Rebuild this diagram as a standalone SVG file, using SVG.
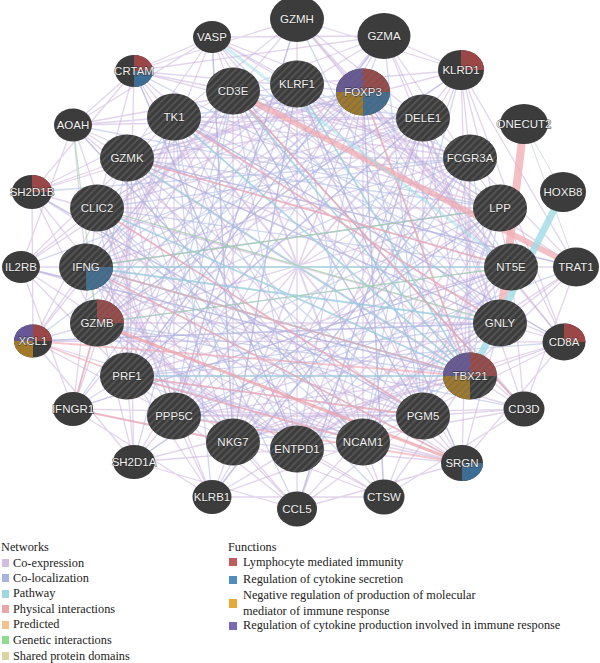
<svg xmlns="http://www.w3.org/2000/svg" width="600" height="663" viewBox="0 0 600 663">
<defs>
<pattern id="hatch" patternUnits="userSpaceOnUse" width="5" height="5" patternTransform="rotate(45)">
<line x1="1" y1="0" x2="1" y2="5" stroke="#6a6a6a" stroke-width="1.4" stroke-opacity="0.7"/>
</pattern>
<style>
.nd{fill:#3c3c3c}
.ht{fill:url(#hatch)}
.lb{font-family:"Liberation Sans",Arial,sans-serif;font-size:11.5px;fill:#f2f2f2;text-anchor:middle;stroke:#2a2a2a;stroke-width:0.8px;paint-order:stroke}
.lg{font-family:"Liberation Serif","Times New Roman",serif;font-size:12.3px;fill:#222}
.ce{fill:none;stroke:#c6a9da;stroke-width:1.3;stroke-opacity:0.5}
.cl{fill:none;stroke:#a3b2e2;stroke-width:1.3;stroke-opacity:0.5}
.pw{fill:none;stroke:#8fd2dd;stroke-width:1.8;stroke-opacity:0.55}
.ph{fill:none;stroke:#eea2aa;stroke-width:1.8;stroke-opacity:0.6}
.gi{fill:none;stroke:#93d993;stroke-width:1.2;stroke-opacity:0.6}
.pr{fill:#9b4747}.bl{fill:#3e6d94}.go{fill:#a27a27}.pu{fill:#675799}
</style>
</defs>
<rect width="600" height="663" fill="#ffffff"/>
<g id="connectors">
<path class="ce" d="M297 84L511 267M363 92L500 323M423 118L470 376M470 158L423 416M500 208L363 442M511 267L297 449M500 323L233 442M470 376L174 416M423 416L127 376M363 442L97 323M297 449L86 267M233 442L97 208M174 416L127 158M127 376L174 117M97 323L233 91M86 267L297 84M97 208L363 92M127 158L423 118M174 117L470 158M233 91L500 208"/>
<path class="ce" d="M297 84L423 416M363 92L363 442M423 118L297 449M470 158L233 442M500 208L174 416M511 267L127 376M500 323L97 323M470 376L86 267M423 416L97 208M363 442L127 158M297 449L174 117M233 442L233 91M174 416L297 84M127 376L363 92M97 323L423 118M86 267L470 158M97 208L500 208M127 158L511 267M174 117L500 323M233 91L470 376"/>
<path class="ce" d="M297 84L500 208M363 92L511 267M423 118L500 323M470 158L470 376M500 208L423 416M511 267L363 442M500 323L297 449M470 376L233 442M423 416L174 416M363 442L127 376M297 449L97 323M233 442L86 267M174 416L97 208M127 376L127 158M97 323L174 117M86 267L233 91M97 208L297 84M127 158L363 92M174 117L423 118M233 91L470 158"/>
<path class="ce" d="M297 84L500 323M363 92L470 376M423 118L423 416M470 158L363 442M500 208L297 449M511 267L233 442M500 323L174 416M470 376L127 376M423 416L97 323M363 442L86 267M297 449L97 208M233 442L127 158M174 416L174 117M127 376L233 91M97 323L297 84M86 267L363 92M97 208L423 118M127 158L470 158M174 117L500 208M233 91L511 267"/>
<path class="ce" d="M297 84L233 442M423 118L127 376M500 208L86 267M500 323L127 158M423 416L233 91"/>
<path class="ce" d="M212 37L297 84M212 37L500 208M212 37L363 442M212 37L97 323M297 19L363 92M297 19L511 267M297 19L297 449M297 19L86 267M384 36L423 118M384 36L500 323M384 36L233 442M384 36L97 208M461 70L470 158M461 70L470 376M461 70L174 416M461 70L127 158M576 267L500 323M576 267L297 449M576 267L86 267M576 267L297 84M564 342L470 376M564 342L233 442M564 342L97 208M564 342L363 92M524 409L423 416M524 409L174 416M524 409L127 158M524 409L423 118M462 463L363 442M462 463L127 376M462 463L174 117M462 463L470 158M384 497L297 449M384 497L97 323M384 497L233 91M384 497L500 208M297 509L233 442M297 509L86 267M297 509L297 84M297 509L511 267M212 497L174 416M212 497L97 208M212 497L363 92M212 497L500 323M134 462L127 376M134 462L127 158M134 462L423 118M134 462L470 376M73 409L97 323M73 409L174 117M73 409L470 158M73 409L423 416M33 341L86 267M33 341L233 91M33 341L500 208M33 341L363 442M21 267L97 208M21 267L297 84M21 267L511 267M21 267L297 449M32 192L127 158M32 192L363 92M32 192L500 323M32 192L233 442M73 125L174 117M73 125L423 118M73 125L470 376M73 125L174 416M134 71L233 91M134 71L470 158M134 71L423 416M134 71L127 376"/>
<path class="ce" d="M212 37L423 118M212 37L233 442M212 37L127 158M297 19L470 158M297 19L174 416M297 19L174 117M384 36L500 208M384 36L127 376M384 36L233 91M461 70L511 267M461 70L97 323M461 70L297 84M576 267L423 416M576 267L127 158M576 267L470 158M564 342L363 442M564 342L174 117M564 342L500 208M524 409L297 449M524 409L233 91M524 409L511 267M462 463L233 442M462 463L297 84M462 463L500 323M384 497L174 416M384 497L363 92M384 497L470 376M297 509L127 376M297 509L423 118M297 509L423 416M212 497L97 323M212 497L470 158M212 497L363 442M134 462L86 267M134 462L500 208M134 462L297 449M73 409L97 208M73 409L511 267M73 409L233 442M33 341L127 158M33 341L500 323M33 341L174 416M21 267L174 117M21 267L470 376M21 267L127 376M32 192L233 91M32 192L423 416M32 192L97 323M73 125L297 84M73 125L363 442M73 125L86 267M134 71L363 92M134 71L297 449M134 71L97 208"/>
<path class="ce" d="M212 37L134 71M212 37L384 36M134 71L297 19M134 71L384 36M73 125L212 37M73 125L134 71M32 192L134 71M21 267L73 125M33 341L32 192M73 409L21 267M134 462L33 341M212 497L73 409M297 509L134 462M384 497L212 497M462 463L297 509M524 409L384 497M564 342L462 463M576 267L524 409M461 70L297 19M384 36L461 70M461 70L576 267M564 342L461 70M564 342L33 341M524 409L21 267M212 37L462 463M384 36L134 462M461 70L212 497M297 19L564 342M134 71L524 409M73 125L564 342M32 192L462 463M73 409L384 36M297 509L461 70M384 497L134 71M462 463L73 125M524 409L212 37"/>
<path class="cl" d="M297 84L470 158M363 92L500 208M423 118L511 267M470 158L500 323M500 208L470 376M511 267L423 416M500 323L363 442M470 376L297 449M423 416L233 442M363 442L174 416M297 449L127 376M233 442L97 323M174 416L86 267M127 376L97 208M97 323L127 158M86 267L174 117M97 208L233 91M127 158L297 84M174 117L363 92M233 91L423 118"/>
<path class="cl" d="M297 84L470 376M363 92L423 416M423 118L363 442M470 158L297 449M500 208L233 442M511 267L174 416M500 323L127 376M470 376L97 323M423 416L86 267M363 442L97 208M297 449L127 158M233 442L174 117M174 416L233 91M127 376L297 84M97 323L363 92M86 267L423 118M97 208L470 158M127 158L500 208M174 117L511 267M233 91L500 323"/>
<path class="cl" d="M297 84L363 442M363 92L297 449M423 118L233 442M470 158L174 416M500 208L127 376M511 267L97 323M500 323L86 267M470 376L97 208M423 416L127 158M363 442L174 117M297 449L233 91M233 442L297 84M174 416L363 92M127 376L423 118M97 323L470 158M86 267L500 208M97 208L511 267M127 158L500 323M174 117L470 376M233 91L423 416"/>
<path class="cl" d="M212 37L500 323M212 37L233 442M297 19L470 376M297 19L174 416M384 36L423 416M384 36L127 376M461 70L363 442M461 70L97 323M576 267L174 416M576 267L127 158M564 342L127 376M564 342L174 117M524 409L97 323M524 409L233 91M462 463L86 267M462 463L297 84M384 497L97 208M384 497L363 92M297 509L127 158M297 509L423 118M212 497L174 117M212 497L470 158M134 462L233 91M134 462L500 208M73 409L297 84M73 409L511 267M33 341L363 92M33 341L500 323M21 267L423 118M21 267L470 376M32 192L470 158M32 192L423 416M73 125L500 208M73 125L363 442M134 71L511 267M134 71L297 449"/>
<path class="pw" d="M470 376L86 267M470 376L233 91M470 376L297 84M470 376L127 158M470 376L97 208M470 376L174 117M500 323L86 267M86 267L511 267M470 376L127 376"/>
<path class="gi" d="M86 267L500 208M97 208L500 323M73 125L97 323M97 323L511 267"/>
<path class="ph" d="M127 376L423 416M97 323L73 409M33 341L127 376M174 117L500 323M86 267L470 376M233 91L524 409M363 92L470 376M127 376L363 442M73 409L233 442M97 208L423 416M127 158L511 267M86 267L462 463M33 341L470 376M174 416L462 463"/>
<path fill="none" stroke="#eea2aa" stroke-opacity="0.75" stroke-width="3" d="M97 323L462 463"/>
<path fill="none" stroke="#d6dede" stroke-width="1" d="M524 124L576 267M524 124L563 192"/>
<path fill="none" stroke="#f0a7ae" stroke-opacity="0.7" stroke-width="6" d="M233 91L576 267"/>
<path fill="none" stroke="#f2b0b5" stroke-opacity="0.8" stroke-width="8" d="M524 124L500 323"/>
<path fill="none" stroke="#9fdbe5" stroke-opacity="0.8" stroke-width="7" d="M563 192L470 376"/>
<path fill="none" stroke="#9fdbe5" stroke-opacity="0.5" stroke-width="3" d="M212 37L511 267"/>
</g>
<g id="nodes">
<g id="n-VASP"><ellipse class="nd" cx="212" cy="37" rx="19" ry="16"/><text class="lb" x="212" y="41">VASP</text></g>
<g id="n-GZMH"><ellipse class="nd" cx="297" cy="19" rx="27" ry="23"/><text class="lb" x="297" y="23">GZMH</text></g>
<g id="n-GZMA"><ellipse class="nd" cx="384" cy="36" rx="26.5" ry="23"/><text class="lb" x="384" y="40">GZMA</text></g>
<g id="n-KLRD1"><ellipse class="nd" cx="461" cy="70" rx="23" ry="20"/><path class="pr" d="M461 70L461 50A23 20 0 0 1 484 70Z"/><text class="lb" x="461" y="74">KLRD1</text></g>
<g id="n-ONECUT2"><ellipse class="nd" cx="524" cy="124" rx="24" ry="20"/><text class="lb" x="524" y="128">ONECUT2</text></g>
<g id="n-HOXB8"><ellipse class="nd" cx="563" cy="192" rx="23" ry="20"/><text class="lb" x="563" y="196">HOXB8</text></g>
<g id="n-TRAT1"><ellipse class="nd" cx="576" cy="267" rx="23" ry="19.5"/><text class="lb" x="576" y="271">TRAT1</text></g>
<g id="n-CD8A"><ellipse class="nd" cx="564" cy="342" rx="21.5" ry="18.5"/><path class="pr" d="M564 342L564 323.5A21.5 18.5 0 0 1 585.5 342Z"/><text class="lb" x="564" y="346">CD8A</text></g>
<g id="n-CD3D"><ellipse class="nd" cx="524" cy="409" rx="20.5" ry="17.5"/><text class="lb" x="524" y="413">CD3D</text></g>
<g id="n-SRGN"><ellipse class="nd" cx="462" cy="463" rx="21" ry="18"/><path class="bl" d="M462 463L483 463A21 18 0 0 1 462 481Z"/><text class="lb" x="462" y="467">SRGN</text></g>
<g id="n-CTSW"><ellipse class="nd" cx="384" cy="497" rx="20.5" ry="17.5"/><text class="lb" x="384" y="501">CTSW</text></g>
<g id="n-CCL5"><ellipse class="nd" cx="297" cy="509" rx="20" ry="17.5"/><text class="lb" x="297" y="513">CCL5</text></g>
<g id="n-KLRB1"><ellipse class="nd" cx="212" cy="497" rx="19.5" ry="17"/><text class="lb" x="212" y="501">KLRB1</text></g>
<g id="n-SH2D1A"><ellipse class="nd" cx="134" cy="462" rx="21" ry="17"/><text class="lb" x="134" y="466">SH2D1A</text></g>
<g id="n-IFNGR1"><ellipse class="nd" cx="73" cy="409" rx="20" ry="17"/><text class="lb" x="73" y="413">IFNGR1</text></g>
<g id="n-XCL1"><ellipse class="nd" cx="33" cy="341" rx="19" ry="16.5"/><path class="pu" d="M33 341L14 341A19 16.5 0 0 1 33 324.5Z"/><path class="pr" d="M33 341L33 324.5A19 16.5 0 0 1 52 341Z"/><path class="go" d="M33 341L33 357.5A19 16.5 0 0 1 14 341Z"/><text class="lb" x="33" y="345">XCL1</text></g>
<g id="n-IL2RB"><ellipse class="nd" cx="21" cy="267" rx="19" ry="16"/><text class="lb" x="21" y="271">IL2RB</text></g>
<g id="n-SH2D1B"><ellipse class="nd" cx="32" cy="192" rx="20" ry="17"/><path class="pr" d="M32 192L32 175A20 17 0 0 1 52 192Z"/><text class="lb" x="32" y="196">SH2D1B</text></g>
<g id="n-AOAH"><ellipse class="nd" cx="73" cy="125" rx="19" ry="16.5"/><text class="lb" x="73" y="129">AOAH</text></g>
<g id="n-CRTAM"><ellipse class="nd" cx="134" cy="71" rx="19" ry="16"/><path class="pr" d="M134 71L134 55A19 16 0 0 1 153 71Z"/><path class="bl" d="M134 71L153 71A19 16 0 0 1 134 87Z"/><text class="lb" x="134" y="75">CRTAM</text></g>
<g id="n-KLRF1"><ellipse class="nd" cx="297" cy="84" rx="27" ry="23.5"/><ellipse class="ht" cx="297" cy="84" rx="27" ry="23.5"/><text class="lb" x="297" y="88">KLRF1</text></g>
<g id="n-FOXP3"><ellipse class="nd" cx="363" cy="92" rx="27" ry="23.5"/><path class="pu" d="M363 92L336 92A27 23.5 0 0 1 363 68.5Z"/><path class="pr" d="M363 92L363 68.5A27 23.5 0 0 1 390 92Z"/><path class="bl" d="M363 92L390 92A27 23.5 0 0 1 363 115.5Z"/><path class="go" d="M363 92L363 115.5A27 23.5 0 0 1 336 92Z"/><ellipse class="ht" cx="363" cy="92" rx="27" ry="23.5"/><text class="lb" x="363" y="96">FOXP3</text></g>
<g id="n-DELE1"><ellipse class="nd" cx="423" cy="118" rx="27" ry="23.5"/><ellipse class="ht" cx="423" cy="118" rx="27" ry="23.5"/><text class="lb" x="423" y="122">DELE1</text></g>
<g id="n-FCGR3A"><ellipse class="nd" cx="470" cy="158" rx="27" ry="23.5"/><ellipse class="ht" cx="470" cy="158" rx="27" ry="23.5"/><text class="lb" x="470" y="162">FCGR3A</text></g>
<g id="n-LPP"><ellipse class="nd" cx="500" cy="208" rx="27" ry="23.5"/><ellipse class="ht" cx="500" cy="208" rx="27" ry="23.5"/><text class="lb" x="500" y="212">LPP</text></g>
<g id="n-NT5E"><ellipse class="nd" cx="511" cy="267" rx="27" ry="23.5"/><ellipse class="ht" cx="511" cy="267" rx="27" ry="23.5"/><text class="lb" x="511" y="271">NT5E</text></g>
<g id="n-GNLY"><ellipse class="nd" cx="500" cy="323" rx="27" ry="23.5"/><ellipse class="ht" cx="500" cy="323" rx="27" ry="23.5"/><text class="lb" x="500" y="327">GNLY</text></g>
<g id="n-TBX21"><ellipse class="nd" cx="470" cy="376" rx="27" ry="23.5"/><path class="pu" d="M470 376L443 376A27 23.5 0 0 1 470 352.5Z"/><path class="pr" d="M470 376L470 352.5A27 23.5 0 0 1 497 376Z"/><path class="go" d="M470 376L470 399.5A27 23.5 0 0 1 443 376Z"/><ellipse class="ht" cx="470" cy="376" rx="27" ry="23.5"/><text class="lb" x="470" y="380">TBX21</text></g>
<g id="n-PGM5"><ellipse class="nd" cx="423" cy="416" rx="27" ry="23.5"/><ellipse class="ht" cx="423" cy="416" rx="27" ry="23.5"/><text class="lb" x="423" y="420">PGM5</text></g>
<g id="n-NCAM1"><ellipse class="nd" cx="363" cy="442" rx="27" ry="23.5"/><ellipse class="ht" cx="363" cy="442" rx="27" ry="23.5"/><text class="lb" x="363" y="446">NCAM1</text></g>
<g id="n-ENTPD1"><ellipse class="nd" cx="297" cy="449" rx="27" ry="23.5"/><ellipse class="ht" cx="297" cy="449" rx="27" ry="23.5"/><text class="lb" x="297" y="453">ENTPD1</text></g>
<g id="n-NKG7"><ellipse class="nd" cx="233" cy="442" rx="27" ry="23.5"/><ellipse class="ht" cx="233" cy="442" rx="27" ry="23.5"/><text class="lb" x="233" y="446">NKG7</text></g>
<g id="n-PPP5C"><ellipse class="nd" cx="174" cy="416" rx="27" ry="23.5"/><ellipse class="ht" cx="174" cy="416" rx="27" ry="23.5"/><text class="lb" x="174" y="420">PPP5C</text></g>
<g id="n-PRF1"><ellipse class="nd" cx="127" cy="376" rx="27" ry="23.5"/><ellipse class="ht" cx="127" cy="376" rx="27" ry="23.5"/><text class="lb" x="127" y="380">PRF1</text></g>
<g id="n-GZMB"><ellipse class="nd" cx="97" cy="323" rx="27" ry="23.5"/><path class="pr" d="M97 323L97 299.5A27 23.5 0 0 1 124 323Z"/><ellipse class="ht" cx="97" cy="323" rx="27" ry="23.5"/><text class="lb" x="97" y="327">GZMB</text></g>
<g id="n-IFNG"><ellipse class="nd" cx="86" cy="267" rx="27" ry="23.5"/><path class="bl" d="M86 267L113 267A27 23.5 0 0 1 86 290.5Z"/><ellipse class="ht" cx="86" cy="267" rx="27" ry="23.5"/><text class="lb" x="86" y="271">IFNG</text></g>
<g id="n-CLIC2"><ellipse class="nd" cx="97" cy="208" rx="27" ry="23.5"/><ellipse class="ht" cx="97" cy="208" rx="27" ry="23.5"/><text class="lb" x="97" y="212">CLIC2</text></g>
<g id="n-GZMK"><ellipse class="nd" cx="127" cy="158" rx="27" ry="23.5"/><ellipse class="ht" cx="127" cy="158" rx="27" ry="23.5"/><text class="lb" x="127" y="162">GZMK</text></g>
<g id="n-TK1"><ellipse class="nd" cx="174" cy="117" rx="27" ry="23.5"/><ellipse class="ht" cx="174" cy="117" rx="27" ry="23.5"/><text class="lb" x="174" y="121">TK1</text></g>
<g id="n-CD3E"><ellipse class="nd" cx="233" cy="91" rx="27" ry="23.5"/><ellipse class="ht" cx="233" cy="91" rx="27" ry="23.5"/><text class="lb" x="233" y="95">CD3E</text></g>
</g>
<g id="legend">
<text class="lg" x="1" y="551">Networks</text>
<rect x="2" y="559" width="7" height="8" fill="#d3bde3"/><text class="lg" x="13" y="567">Co-expression</text>
<rect x="2" y="574" width="7" height="8" fill="#a6b5dd"/><text class="lg" x="13" y="582">Co-localization</text>
<rect x="2" y="590" width="7" height="8" fill="#9fd7df"/><text class="lg" x="13" y="597">Pathway</text>
<rect x="2" y="605" width="7" height="8" fill="#eea5a8"/><text class="lg" x="13" y="613">Physical interactions</text>
<rect x="2" y="621" width="7" height="8" fill="#f6c08e"/><text class="lg" x="13" y="628">Predicted</text>
<rect x="2" y="636" width="7" height="8" fill="#8edc8e"/><text class="lg" x="13" y="644">Genetic interactions</text>
<rect x="2" y="652" width="7" height="8" fill="#dbd3a3"/><text class="lg" x="13" y="660">Shared protein domains</text>
<text class="lg" x="228" y="551">Functions</text>
<rect x="229" y="558" width="8" height="8" fill="#c25b5b"/><text class="lg" x="243" y="566">Lymphocyte mediated immunity</text>
<rect x="229" y="576" width="8" height="8" fill="#4f8dc2"/><text class="lg" x="243" y="583">Regulation of cytokine secretion</text>
<rect x="229" y="599" width="8" height="9" fill="#e8a93a"/><text class="lg" x="243" y="599">Negative regulation of production of molecular</text><text class="lg" x="243" y="615">mediator of immune response</text>
<rect x="229" y="622" width="8" height="8" fill="#7a6ab5"/><text class="lg" x="243" y="629">Regulation of cytokine production involved in immune response</text>
</g>
</svg>
